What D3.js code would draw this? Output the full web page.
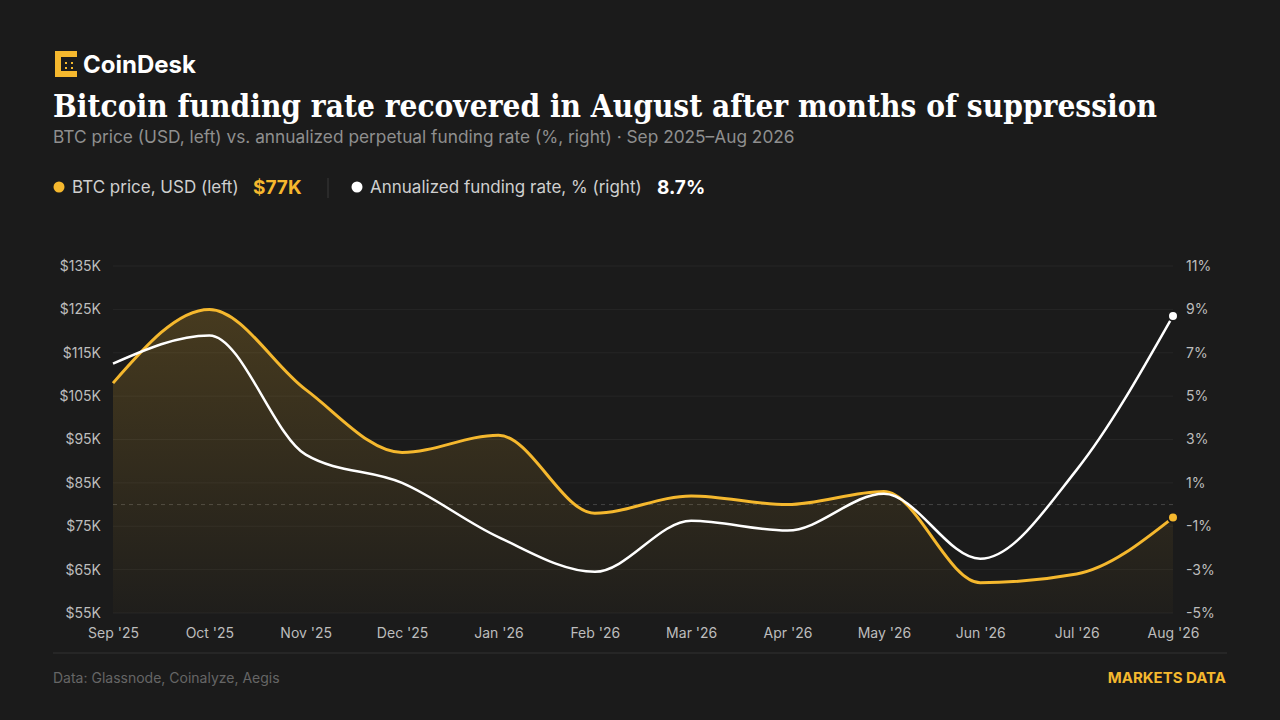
<!DOCTYPE html>
<html><head><meta charset="utf-8">
<script src="https://cdn.jsdelivr.net/npm/d3@7"></script>
<style>
body{margin:0;background:#1b1b1b;}
svg{display:block;font-family:Inter,sans-serif;}
</style></head><body>
<script>
var months = ["Sep '25","Oct '25","Nov '25","Dec '25","Jan '26","Feb '26","Mar '26","Apr '26","May '26","Jun '26","Jul '26","Aug '26"];
var btcPrice = [108, 125, 106.5, 92, 96, 78, 82, 80, 83, 62, 64, 77];
var fundingRate = [6.5, 7.8, 2.3, 1.0, -1.5, -3.1, -0.75, -1.2, 0.5, -2.5, 1.6, 8.7];
var leftTicks = [55,65,75,85,95,105,115,125,135];
var rightTicks = [-5,-3,-1,1,3,5,7,9,11];

var W = 1280, H = 720;
var svg = d3.select("body").append("svg").attr("width",W).attr("height",H);
svg.append("rect").attr("width",W).attr("height",H).attr("fill","#1b1b1b");

// logo
var logo = svg.append("g").attr("transform","translate(53,51)");
logo.append("path").attr("d","M2,0 H24 V6 H8 V20 H24 V26 H2 Z").attr("fill","#f5b82e");
[[12,11],[18,11],[12,16],[18,16]].forEach(function(p){
  logo.append("rect").attr("x",p[0]).attr("y",p[1]).attr("width",2).attr("height",2).attr("fill","#f5b82e");
});
svg.append("text").attr("x",83).attr("y",73).text("CoinDesk")
  .attr("fill","#fff").attr("font-size",24).attr("font-weight",700);

svg.append("text").attr("x",53).attr("y",117).text("Bitcoin funding rate recovered in August after months of suppression")
  .attr("fill","#fff").attr("font-family","'DejaVu Serif',serif").attr("font-size",32).attr("font-weight",700)
  .attr("textLength",1104).attr("lengthAdjust","spacingAndGlyphs");
svg.append("text").attr("x",53).attr("y",143).text("BTC price (USD, left) vs. annualized perpetual funding rate (%, right) · Sep 2025–Aug 2026")
  .attr("fill","#8f8f8f").attr("font-size",17.3);

// legend
svg.append("circle").attr("cx",59).attr("cy",187).attr("r",5.5).attr("fill","#f5b82e");
svg.append("text").attr("x",72).attr("y",193).text("BTC price, USD (left)").attr("fill","#cfcfcf").attr("font-size",17);
svg.append("text").attr("x",253).attr("y",194).text("$77K").attr("fill","#f5b82e").attr("font-size",19).attr("font-weight",700);
svg.append("line").attr("x1",328).attr("x2",328).attr("y1",178).attr("y2",198).attr("stroke","#3a3a3a");
svg.append("circle").attr("cx",357).attr("cy",187).attr("r",5.5).attr("fill","#fff");
svg.append("text").attr("x",370).attr("y",193).text("Annualized funding rate, % (right)").attr("fill","#cfcfcf").attr("font-size",17);
svg.append("text").attr("x",657).attr("y",194).text("8.7%").attr("fill","#fff").attr("font-size",19).attr("font-weight",700);

var x = d3.scalePoint().domain(months).range([113,1173]);
var yL = d3.scaleLinear().domain([55,135]).range([613,266]);
var yR = d3.scaleLinear().domain([-5,11]).range([613,266]);

var grid = svg.append("g");
leftTicks.forEach(function(t){
  grid.append("line").attr("x1",113).attr("x2",1173).attr("y1",yL(t)).attr("y2",yL(t)).attr("stroke","#262626");
});
grid.append("line").attr("x1",113).attr("x2",1173).attr("y1",yR(0)).attr("y2",yR(0))
  .attr("stroke","#444").attr("stroke-dasharray","4,4");
svg.append("line").attr("x1",53).attr("x2",1227).attr("y1",653).attr("y2",653).attr("stroke","#333");

var axL = svg.append("g").attr("transform","translate(104,0)")
  .call(d3.axisLeft(yL).tickValues(leftTicks).tickSize(0).tickFormat(function(d){return "$"+d+"K";}));
var axR = svg.append("g").attr("transform","translate(1183,0)")
  .call(d3.axisRight(yR).tickValues(rightTicks).tickSize(0).tickFormat(function(d){return d+"%";}));
var axB = svg.append("g").attr("transform","translate(0,622)")
  .call(d3.axisBottom(x).tickSize(0));
[axL,axR,axB].forEach(function(a){
  a.select(".domain").remove();
  a.selectAll("text").attr("fill","#bdbdbd").attr("font-size",14).attr("font-family","Inter,sans-serif");
});
axB.selectAll("text").attr("dy","0.9em");

var defs = svg.append("defs");
var grad = defs.append("linearGradient").attr("id","fillg").attr("x1",0).attr("x2",0).attr("y1",0).attr("y2",1);
grad.append("stop").attr("offset","0%").attr("stop-color","#f5b82e").attr("stop-opacity",0.2);
grad.append("stop").attr("offset","100%").attr("stop-color","#f5b82e").attr("stop-opacity",0.02);

var curve = d3.curveMonotoneX;
svg.append("path").datum(btcPrice)
  .attr("d", d3.area().x(function(d,i){return x(months[i]);}).y0(613).y1(function(d){return yL(d);}).curve(curve))
  .attr("fill","url(#fillg)");
svg.append("path").datum(btcPrice)
  .attr("d", d3.line().x(function(d,i){return x(months[i]);}).y(function(d){return yL(d);}).curve(curve))
  .attr("fill","none").attr("stroke","#f5b82e").attr("stroke-width",3);
svg.append("path").datum(fundingRate)
  .attr("d", d3.line().x(function(d,i){return x(months[i]);}).y(function(d){return yR(d);}).curve(curve))
  .attr("fill","none").attr("stroke","#fff").attr("stroke-width",2.5);

var last = months.length-1;
svg.append("circle").attr("cx",x(months[last])).attr("cy",yL(btcPrice[last])).attr("r",5)
  .attr("fill","#f5b82e").attr("stroke","#1b1b1b").attr("stroke-width",2);
svg.append("circle").attr("cx",x(months[last])).attr("cy",yR(fundingRate[last])).attr("r",5)
  .attr("fill","#fff").attr("stroke","#1b1b1b").attr("stroke-width",2);

svg.append("text").attr("x",53).attr("y",683).text("Data: Glassnode, Coinalyze, Aegis").attr("fill","#666").attr("font-size",14);
svg.append("text").attr("x",1226).attr("y",683).attr("text-anchor","end").text("MARKETS DATA")
  .attr("fill","#f5b82e").attr("font-size",15).attr("font-weight",700);
</script>
</body></html>
